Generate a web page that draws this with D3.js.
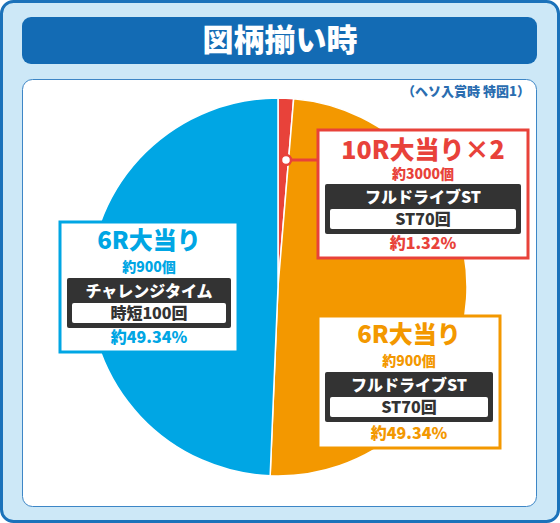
<!DOCTYPE html><html><head><meta charset="utf-8"><script src="https://cdn.jsdelivr.net/npm/d3@7"></script>
<style>body{margin:0;background:#fff}svg{display:block}text{font-family:"Noto Sans CJK JP",sans-serif;font-weight:900}</style></head><body><svg width="560" height="523"></svg><script>
const title="図柄揃い時";
const note="（ヘソ入賞時 特図1）";
const categories=["10R大当り×2","6R大当り(ST)","6R大当り(時短)"];
const values=[1.32,49.34,49.34];
const colors=["#e8423a","#f39800","#00a6e4"];
const heads=["10R大当り×2","6R大当り","6R大当り"];
const balls=["約3000個","約900個","約900個"];
const modes=["フルドライブST","フルドライブST","チャレンジタイム"];
const counts=["ST70回","ST70回","時短100回"];
const pcts=["約1.32%","約49.34%","約49.34%"];
const svg=d3.select("svg");
svg.append("rect").attr("x",1.5).attr("y",1.5).attr("width",557).attr("height",520).attr("rx",12).attr("fill","#cde8f7").attr("stroke","#1b72ba").attr("stroke-width",3);
svg.append("rect").attr("x",22).attr("y",17).attr("width",515).attr("height",47).attr("rx",9).attr("fill","#136bb4");
svg.append("text").attr("x",280).attr("y",51).attr("text-anchor","middle").attr("fill","#fff").attr("font-size",31).text(title);
svg.append("rect").attr("x",22.5).attr("y",79.5).attr("width",514).attr("height",427).attr("rx",10).attr("fill","#fff").attr("stroke","#3d86c6").attr("stroke-width",1);
svg.append("text").attr("x",530).attr("y",96).attr("text-anchor","end").attr("fill","#2a6db0").attr("font-size",13).text(note);
const cx=278,cy=287,r=189;
const pie=d3.pie().sort(null)(values);
const arc=d3.arc().innerRadius(0).outerRadius(r);
const g=svg.append("g").attr("transform",`translate(${cx},${cy})`);
g.selectAll("path").data(pie).join("path").attr("d",arc).attr("fill",(d,i)=>colors[i]).attr("stroke","#fff").attr("stroke-width",1.5);
const boxes=[[318,130,210,128],[318,316,182,132],[60,222,178,130]];
const txtCol=["#e8423a","#f39800","#00a6e4"];
svg.append("line").attr("x1",286).attr("y1",160).attr("x2",318).attr("y2",160).attr("stroke",colors[0]).attr("stroke-width",3);
svg.append("circle").attr("cx",286).attr("cy",160).attr("r",5).attr("fill","#fff").attr("stroke",colors[0]).attr("stroke-width",2.5);
boxes.forEach((b,i)=>{
 const [x,y,w,h]=b, mx=x+w/2, c=txtCol[i];
 svg.append("rect").attr("x",x).attr("y",y).attr("width",w).attr("height",h).attr("fill","#fff").attr("stroke",c).attr("stroke-width",3);
 svg.append("text").attr("x",mx).attr("y",y+(i==0?29:27)).attr("text-anchor","middle").attr("fill",c).attr("font-size",i==0?25:24).text(heads[i]);
 svg.append("text").attr("x",mx).attr("y",y+(i==0?49:50)).attr("text-anchor","middle").attr("fill",c).attr("font-size",14).text(balls[i]);
 const by=y+(i==0?54:56);
 svg.append("rect").attr("x",x+7).attr("y",by).attr("width",w-14).attr("height",50).attr("rx",2).attr("fill","#333");
 svg.append("text").attr("x",mx).attr("y",by+19).attr("text-anchor","middle").attr("fill","#fff").attr("font-size",16).text(modes[i]);
 svg.append("rect").attr("x",x+12).attr("y",by+25).attr("width",w-24).attr("height",20).attr("rx",2).attr("fill","#fff");
 svg.append("text").attr("x",mx).attr("y",by+41).attr("text-anchor","middle").attr("fill","#333").attr("font-size",16).text(counts[i]);
 svg.append("text").attr("x",mx).attr("y",y+h-9).attr("text-anchor","middle").attr("fill",c).attr("font-size",16).text(pcts[i]);
});
</script></body></html>
